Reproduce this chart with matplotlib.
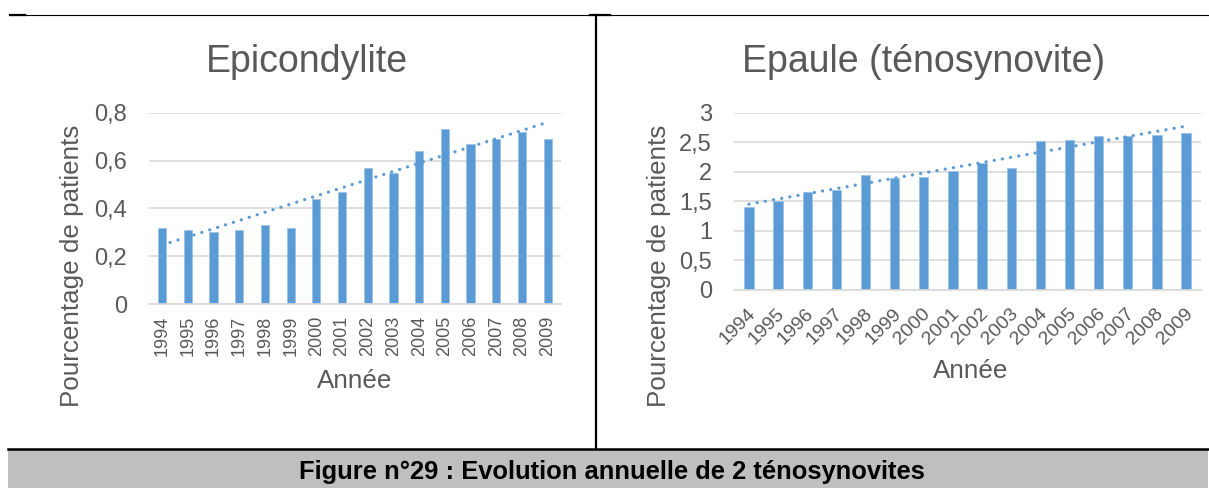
import numpy as np
import matplotlib
matplotlib.use("Agg")
import matplotlib.pyplot as plt
import matplotlib.transforms as mtransforms
from matplotlib.lines import Line2D
from matplotlib.patches import Rectangle

plt.rcParams['font.family'] = ['Liberation Sans', 'DejaVu Sans']

# ---------------- data ----------------
years = ['1994', '1995', '1996', '1997', '1998', '1999', '2000', '2001',
         '2002', '2003', '2004', '2005', '2006', '2007', '2008', '2009']
epicondylite = [0.32, 0.31, 0.30, 0.31, 0.33, 0.32, 0.44, 0.47,
                0.57, 0.55, 0.64, 0.73, 0.67, 0.69, 0.72, 0.69]
epaule = [1.41, 1.51, 1.65, 1.69, 1.94, 1.90, 1.92, 2.01,
          2.15, 2.06, 2.52, 2.54, 2.61, 2.61, 2.62, 2.66]
left_yticks = [0, 0.2, 0.4, 0.6, 0.8]
left_yticklabels = ['0', '0,2', '0,4', '0,6', '0,8']
right_yticks = [0, 0.5, 1, 1.5, 2, 2.5, 3]
right_yticklabels = ['0', '0,5', '1', '1,5', '2', '2,5', '3']
title_left = 'Epicondylite'
title_right = 'Epaule (ténosynovite)'
ylabel = 'Pourcentage de patients'
xlabel = 'Année'
caption = 'Figure n°29 : Evolution annuelle de 2 ténosynovites'

W, H = 1209, 488
BAR = '#5B9BD5'
TXT = '#595959'
GRID = '#D9D9D9'

fig = plt.figure(figsize=(W / 100, H / 100), dpi=100)


def frac(x0, y0, x1, y1):
    return [x0 / W, 1 - y1 / H, (x1 - x0) / W, (y1 - y0) / H]


def draw(ax, vals, yticks, ylabels, ymax, rot):
    x = np.arange(len(vals))
    ax.bar(x, vals, width=0.32, color=BAR, edgecolor='#9DC3E6', linewidth=0.6, zorder=2)
    coef = np.polyfit(x, vals, 1)
    xs = np.linspace(x[0], x[-1], 200)
    ax.plot(xs, np.polyval(coef, xs), color=BAR, lw=2.3,
            linestyle=(0, (0.05, 2.55)), dash_capstyle='round', zorder=3)
    ax.set_xlim(-0.5, len(vals) - 0.5)
    ax.set_ylim(0, ymax)
    ax.set_yticks(yticks)
    ax.set_yticklabels(ylabels, color=TXT, fontsize=17)
    ax.yaxis.grid(True, color=GRID, lw=1.2, zorder=0)
    ax.set_axisbelow(True)
    for s in ['top', 'right', 'left']:
        ax.spines[s].set_visible(False)
    ax.spines['bottom'].set_color(GRID)
    ax.spines['bottom'].set_linewidth(1.2)
    ax.tick_params(axis='both', length=0)
    ax.tick_params(axis='y', pad=16)
    ax.set_xticks(x)
    if rot == 90:
        ax.set_xticklabels(years, rotation=90, color=TXT, fontsize=13, va='top', ha='center')
        ax.tick_params(axis='x', pad=8)
    else:
        ax.set_xticklabels(years, rotation=45, color=TXT, fontsize=14, ha='right',
                           va='center', rotation_mode='anchor')
        ax.tick_params(axis='x', pad=15)
        off = mtransforms.ScaledTranslation(4 / 100, 0, fig.dpi_scale_trans)
        for lab in ax.get_xticklabels():
            lab.set_transform(lab.get_transform() + off)
    ax.set_facecolor('none')


ax1 = fig.add_axes(frac(149.3, 112.7, 560.5, 304.3))
draw(ax1, epicondylite, left_yticks, left_yticklabels, 0.8, 90)
ax2 = fig.add_axes(frac(734.3, 112.7, 1200.7, 290.0))
draw(ax2, epaule, right_yticks, right_yticklabels, 3.0, 45)


def ftext(x, y, s, **kw):
    fig.text(x / W, 1 - y / H, s, **kw)


ftext(307, 62, title_left, fontsize=27, color=TXT, ha='center', va='center')
ftext(924, 62, title_right, fontsize=27, color=TXT, ha='center', va='center')
ftext(72, 266, ylabel, fontsize=18.7, color=TXT, ha='center', va='center', rotation=90)
ftext(659, 266, ylabel, fontsize=18.7, color=TXT, ha='center', va='center', rotation=90)
ftext(355, 381, xlabel, fontsize=18.7, color=TXT, ha='center', va='center')
ftext(971, 371, xlabel, fontsize=18.7, color=TXT, ha='center', va='center')

# page decorations (table borders and caption band)
bg = fig.add_axes([0, 0, 1, 1], zorder=-1)
bg.set_xlim(0, W)
bg.set_ylim(H, 0)
bg.axis('off')
bg.add_patch(Rectangle((8, 449.5), 1200, 40, facecolor='#BFBFBF', edgecolor='none'))
bg.add_line(Line2D([10, W], [15.3, 15.3], color='black', lw=0.8))
bg.add_line(Line2D([10, 25], [15.3, 15.3], color='black', lw=1.6))
bg.add_line(Line2D([590, 610], [15.3, 15.3], color='black', lw=1.6))
bg.add_line(Line2D([596, 596], [15.3, 448.5], color='black', lw=1.6))
bg.add_line(Line2D([8, 1208], [448.7, 448.7], color='black', lw=1.8))

ftext(612, 472, caption, fontsize=18.4, fontweight='bold', color='black',
      ha='center', va='center')

fig.savefig('out.png', dpi=100)
